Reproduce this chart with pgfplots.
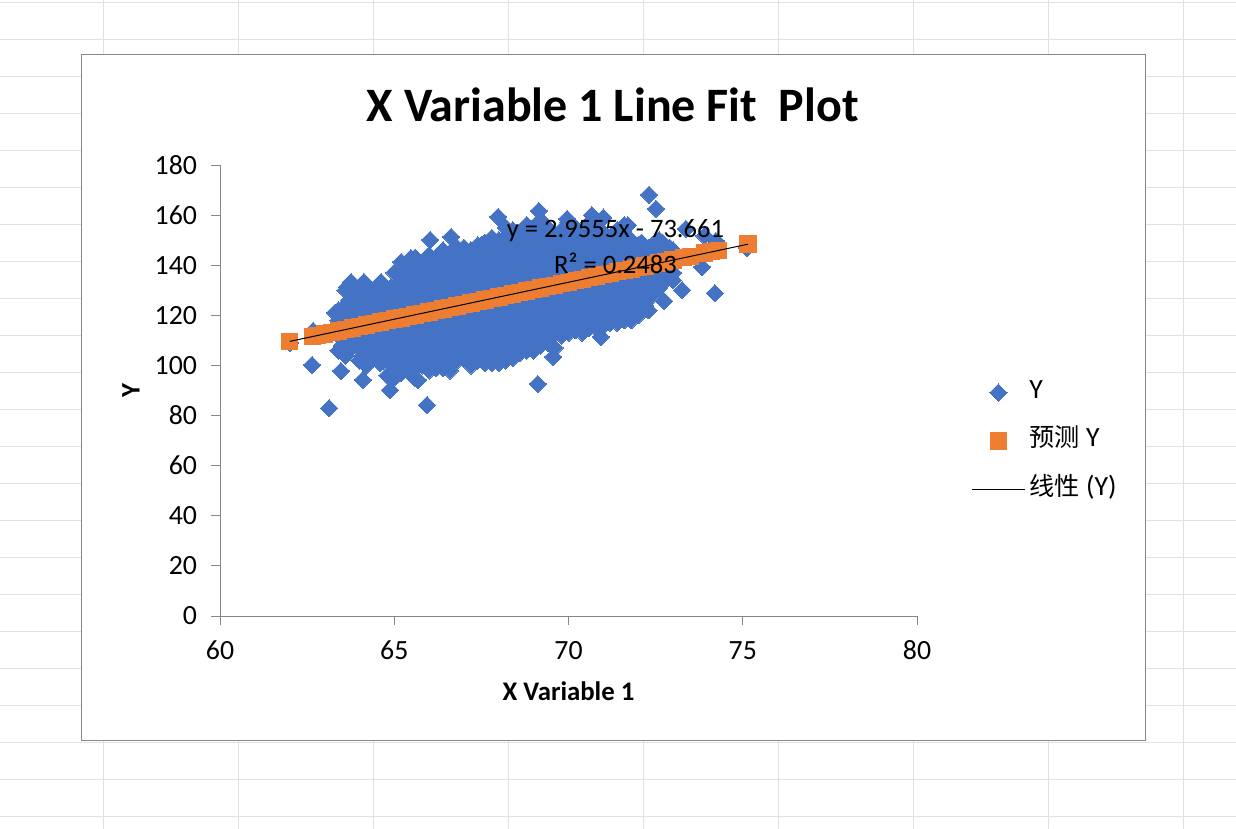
\documentclass[border=0pt]{standalone}
\usepackage{pgfplots}
\usepackage{pgfplotstable}
\pgfplotsset{compat=1.18}
\usepackage{fontspec}
\setmainfont{Carlito}[Numbers=Lining]
\newfontfamily\cjk{Noto Sans CJK SC}
\definecolor{blueY}{HTML}{4472C4}
\definecolor{orangeY}{HTML}{ED7D31}
\definecolor{axisgray}{HTML}{868686}
\definecolor{sheetgrid}{HTML}{E1E1E1}
\pgfplotsset{
  markleg/.style={legend image code/.code={\draw[mark repeat=2,mark phase=2,##1] plot coordinates {(0pt,0pt)(13.25pt,0pt)(26.5pt,0pt)};}},
  lineleg/.style={legend image code/.code={\draw[##1] (0pt,0pt) -- (26.5pt,0pt);}},
}

\pgfplotstableread[row sep=\\]{
x y\\
62.00 109\\ 62.64 100.2\\ 62.67 113.8\\ 63.13 83.0\\ 63.30 121\\ 63.47 97.8\\ 63.64 131.3\\ 63.76 133.3\\
64.10 94.2\\ 64.13 133.3\\ 64.62 133.3\\ 64.88 90.2\\ 65.02 95.4\\ 65.20 141.3\\ 65.48 142.9\\ 65.68 94.2\\ 65.94 84.2\\ 66.03 150.1\\
66.63 151.3\\ 67.80 150.9\\ 67.98 159.3\\ 69.12 92.6\\ 69.15 161.7\\ 69.56 103.4\\ 69.96 158.5\\ 70.67 160\\
70.93 111.4\\ 71.00 159\\ 71.70 156\\ 72.20 123.4\\ 72.30 122\\ 72.31 168.1\\ 72.51 162.5\\ 72.74 125.7\\
73.00 134\\ 73.26 130.1\\ 73.37 154.5\\ 73.83 139.3\\ 73.90 151.7\\ 74.20 128.9\\ 74.23 149.7\\ 75.12 146.9\\
63.4 106\\ 63.4 112\\ 63.4 118\\ 63.4 122\\
63.6 104\\ 63.6 110\\ 63.6 117\\ 63.6 124\\ 63.6 130\\
63.8 108\\ 63.8 114\\ 63.8 120\\ 63.8 127\\ 63.8 132\\
64.0 102\\ 64.0 108\\ 64.0 115\\ 64.0 122\\ 64.0 128\\
64.2 100\\ 64.2 106\\ 64.2 113\\ 64.2 119\\ 64.2 126\\ 64.2 132\\
64.4 103\\ 64.4 110\\ 64.4 116\\ 64.4 123\\ 64.4 130\\
64.6 101\\ 64.6 107\\ 64.6 114\\ 64.6 120\\ 64.6 127\\ 64.6 132\\
64.8 96\\ 64.8 103\\ 64.8 110\\ 64.8 116\\ 64.8 123\\ 64.8 130\\
65.0 100\\ 65.0 106\\ 65.0 113\\ 65.0 119\\ 65.0 125\\ 65.0 131\\ 65.0 137\\
65.2 97\\ 65.2 104\\ 65.2 110\\ 65.2 117\\ 65.2 123\\ 65.2 130\\ 65.2 136\\
65.4 98\\ 65.4 101\\ 65.4 108\\ 65.4 114\\ 65.4 121\\ 65.4 127\\ 65.4 134\\ 65.4 140\\
65.6 95\\ 65.6 104\\ 65.6 111\\ 65.6 118\\ 65.6 124\\ 65.6 131\\ 65.6 137\\ 65.6 143\\
65.8 100\\ 65.8 107\\ 65.8 114\\ 65.8 120\\ 65.8 127\\ 65.8 134\\ 65.8 140\\
66.0 98\\ 66.0 104\\ 66.0 111\\ 66.0 118\\ 66.0 124\\ 66.0 131\\ 66.0 137\\ 66.0 144\\
66.2 99\\ 66.2 106\\ 66.2 113\\ 66.2 120\\ 66.2 127\\ 66.2 134\\ 66.2 140\\ 66.2 143\\
66.4 99\\ 66.4 103\\ 66.4 110\\ 66.4 117\\ 66.4 123\\ 66.4 130\\ 66.4 137\\ 66.4 146\\
66.6 98\\ 66.6 106\\ 66.6 113\\ 66.6 120\\ 66.6 126\\ 66.6 133\\ 66.6 140\\ 66.6 145\\
66.8 102\\ 66.8 109\\ 66.8 116\\ 66.8 122\\ 66.8 129\\ 66.8 136\\ 66.8 142\\ 66.8 147\\
67.0 103\\ 67.0 106\\ 67.0 113\\ 67.0 119\\ 67.0 126\\ 67.0 133\\ 67.0 140\\ 67.0 147\\
67.2 100\\ 67.2 108\\ 67.2 115\\ 67.2 122\\ 67.2 129\\ 67.2 136\\ 67.2 142\\ 67.2 146\\
67.4 102\\ 67.4 105\\ 67.4 112\\ 67.4 119\\ 67.4 126\\ 67.4 132\\ 67.4 139\\ 67.4 148\\
67.6 101\\ 67.6 108\\ 67.6 115\\ 67.6 122\\ 67.6 129\\ 67.6 136\\ 67.6 143\\ 67.6 149\\
67.8 101\\ 67.8 111\\ 67.8 118\\ 67.8 125\\ 67.8 132\\ 67.8 139\\ 67.8 147\\
68.0 101\\ 68.0 107\\ 68.0 114\\ 68.0 121\\ 68.0 128\\ 68.0 135\\ 68.0 142\\ 68.0 150\\
68.2 102\\ 68.2 110\\ 68.2 117\\ 68.2 124\\ 68.2 131\\ 68.2 138\\ 68.2 146\\ 68.2 155\\
68.4 103\\ 68.4 108\\ 68.4 115\\ 68.4 122\\ 68.4 129\\ 68.4 136\\ 68.4 143\\ 68.4 149\\ 68.4 154\\
68.6 105\\ 68.6 112\\ 68.6 119\\ 68.6 126\\ 68.6 133\\ 68.6 140\\ 68.6 147\\ 68.6 152\\
68.8 106\\ 68.8 110\\ 68.8 117\\ 68.8 124\\ 68.8 131\\ 68.8 138\\ 68.8 145\\ 68.8 151\\ 68.8 156\\
69.0 106\\ 69.0 113\\ 69.0 120\\ 69.0 127\\ 69.0 134\\ 69.0 141\\ 69.0 148\\ 69.0 154\\
69.2 108\\ 69.2 114\\ 69.2 121\\ 69.2 128\\ 69.2 135\\ 69.2 142\\ 69.2 149\\ 69.2 158\\
69.4 109\\ 69.4 117\\ 69.4 124\\ 69.4 131\\ 69.4 138\\ 69.4 145\\ 69.4 151\\ 69.4 155\\
69.6 107\\ 69.6 113\\ 69.6 120\\ 69.6 127\\ 69.6 134\\ 69.6 141\\ 69.6 148\\ 69.6 152\\
69.8 112\\ 69.8 118\\ 69.8 125\\ 69.8 132\\ 69.8 139\\ 69.8 146\\ 69.8 154\\
70.0 113\\ 70.0 120\\ 70.0 127\\ 70.0 134\\ 70.0 141\\ 70.0 148\\ 70.0 152\\ 70.0 157\\
70.2 114\\ 70.2 118\\ 70.2 125\\ 70.2 132\\ 70.2 139\\ 70.2 146\\ 70.2 155\\
70.4 113\\ 70.4 120\\ 70.4 127\\ 70.4 134\\ 70.4 141\\ 70.4 148\\ 70.4 153\\
70.6 115\\ 70.6 122\\ 70.6 129\\ 70.6 136\\ 70.6 143\\ 70.6 150\\ 70.6 157\\
70.8 115\\ 70.8 120\\ 70.8 127\\ 70.8 134\\ 70.8 141\\ 70.8 148\\ 70.8 155\\
71.0 116\\ 71.0 122\\ 71.0 129\\ 71.0 136\\ 71.0 143\\ 71.0 149\\ 71.0 153\\
71.2 117\\ 71.2 124\\ 71.2 131\\ 71.2 138\\ 71.2 145\\ 71.2 151\\
71.4 117\\ 71.4 122\\ 71.4 129\\ 71.4 136\\ 71.4 143\\ 71.4 149\\ 71.4 154\\
71.6 118\\ 71.6 125\\ 71.6 132\\ 71.6 139\\ 71.6 146\\ 71.6 156\\
71.8 118\\ 71.8 122\\ 71.8 129\\ 71.8 136\\ 71.8 143\\ 71.8 150\\
72.0 120\\ 72.0 126\\ 72.0 133\\ 72.0 140\\ 72.0 148\\
72.2 124\\ 72.2 130\\ 72.2 137\\ 72.2 143\\ 72.2 147\\
72.4 128\\ 72.4 134\\ 72.4 141\\ 72.4 148\\
72.6 131\\ 72.6 137\\ 72.6 144\\ 72.6 150\\
72.8 134\\ 72.8 140\\ 72.8 147\\
73.0 137\\ 73.0 142\\ 73.0 146\\
63.5 108\\ 63.5 113\\ 63.5 118\\
63.7 106\\ 63.7 111\\ 63.7 116\\ 63.7 121\\ 63.7 126\\
63.9 108\\ 63.9 113\\ 63.9 118\\ 63.9 123\\ 63.9 128\\
64.1 104\\ 64.1 109\\ 64.1 114\\ 64.1 119\\ 64.1 124\\ 64.1 129\\
64.3 106\\ 64.3 111\\ 64.3 116\\ 64.3 121\\ 64.3 126\\ 64.3 130\\
64.5 104\\ 64.5 109\\ 64.5 114\\ 64.5 119\\ 64.5 124\\ 64.5 129\\
64.7 102\\ 64.7 107\\ 64.7 112\\ 64.7 117\\ 64.7 122\\ 64.7 127\\
64.9 101\\ 64.9 106\\ 64.9 111\\ 64.9 116\\ 64.9 121\\ 64.9 126\\ 64.9 131\\
65.1 102\\ 65.1 107\\ 65.1 112\\ 65.1 117\\ 65.1 122\\ 65.1 127\\ 65.1 132\\
65.3 100\\ 65.3 105\\ 65.3 110\\ 65.3 115\\ 65.3 120\\ 65.3 125\\ 65.3 130\\ 65.3 135\\
65.5 102\\ 65.5 107\\ 65.5 112\\ 65.5 117\\ 65.5 122\\ 65.5 127\\ 65.5 132\\ 65.5 137\\
65.7 100\\ 65.7 105\\ 65.7 110\\ 65.7 115\\ 65.7 120\\ 65.7 125\\ 65.7 130\\ 65.7 135\\ 65.7 140\\
65.9 102\\ 65.9 107\\ 65.9 112\\ 65.9 117\\ 65.9 122\\ 65.9 127\\ 65.9 132\\ 65.9 137\\
66.1 101\\ 66.1 106\\ 66.1 111\\ 66.1 116\\ 66.1 121\\ 66.1 126\\ 66.1 131\\ 66.1 136\\ 66.1 141\\
66.3 103\\ 66.3 108\\ 66.3 113\\ 66.3 118\\ 66.3 123\\ 66.3 128\\ 66.3 133\\ 66.3 138\\ 66.3 143\\
66.5 101\\ 66.5 106\\ 66.5 111\\ 66.5 116\\ 66.5 121\\ 66.5 126\\ 66.5 131\\ 66.5 136\\ 66.5 141\\
66.7 103\\ 66.7 108\\ 66.7 113\\ 66.7 118\\ 66.7 123\\ 66.7 128\\ 66.7 133\\ 66.7 138\\ 66.7 143\\
66.9 105\\ 66.9 110\\ 66.9 115\\ 66.9 120\\ 66.9 125\\ 66.9 130\\ 66.9 135\\ 66.9 140\\ 66.9 145\\
67.1 103\\ 67.1 108\\ 67.1 113\\ 67.1 118\\ 67.1 123\\ 67.1 128\\ 67.1 133\\ 67.1 138\\ 67.1 143\\
67.3 105\\ 67.3 110\\ 67.3 115\\ 67.3 120\\ 67.3 125\\ 67.3 130\\ 67.3 135\\ 67.3 140\\ 67.3 145\\
67.5 103\\ 67.5 108\\ 67.5 113\\ 67.5 118\\ 67.5 123\\ 67.5 128\\ 67.5 133\\ 67.5 138\\ 67.5 143\\ 67.5 148\\
67.7 105\\ 67.7 110\\ 67.7 115\\ 67.7 120\\ 67.7 125\\ 67.7 130\\ 67.7 135\\ 67.7 140\\ 67.7 145\\
67.9 103\\ 67.9 108\\ 67.9 113\\ 67.9 118\\ 67.9 123\\ 67.9 128\\ 67.9 133\\ 67.9 138\\ 67.9 143\\ 67.9 148\\
68.1 105\\ 68.1 110\\ 68.1 115\\ 68.1 120\\ 68.1 125\\ 68.1 130\\ 68.1 135\\ 68.1 140\\ 68.1 145\\ 68.1 150\\
68.3 105\\ 68.3 110\\ 68.3 115\\ 68.3 120\\ 68.3 125\\ 68.3 130\\ 68.3 135\\ 68.3 140\\ 68.3 145\\ 68.3 150\\
68.5 107\\ 68.5 112\\ 68.5 117\\ 68.5 122\\ 68.5 127\\ 68.5 132\\ 68.5 137\\ 68.5 142\\ 68.5 147\\ 68.5 152\\
68.7 109\\ 68.7 114\\ 68.7 119\\ 68.7 124\\ 68.7 129\\ 68.7 134\\ 68.7 139\\ 68.7 144\\ 68.7 149\\
68.9 109\\ 68.9 114\\ 68.9 119\\ 68.9 124\\ 68.9 129\\ 68.9 134\\ 68.9 139\\ 68.9 144\\ 68.9 149\\ 68.9 153\\
69.1 110\\ 69.1 115\\ 69.1 120\\ 69.1 125\\ 69.1 130\\ 69.1 135\\ 69.1 140\\ 69.1 145\\ 69.1 150\\ 69.1 154\\
69.3 112\\ 69.3 117\\ 69.3 122\\ 69.3 127\\ 69.3 132\\ 69.3 137\\ 69.3 142\\ 69.3 147\\ 69.3 152\\
69.5 112\\ 69.5 117\\ 69.5 122\\ 69.5 127\\ 69.5 132\\ 69.5 137\\ 69.5 142\\ 69.5 147\\ 69.5 152\\
69.7 114\\ 69.7 119\\ 69.7 124\\ 69.7 129\\ 69.7 134\\ 69.7 139\\ 69.7 144\\ 69.7 149\\
69.9 116\\ 69.9 121\\ 69.9 126\\ 69.9 131\\ 69.9 136\\ 69.9 141\\ 69.9 146\\ 69.9 151\\
70.1 116\\ 70.1 121\\ 70.1 126\\ 70.1 131\\ 70.1 136\\ 70.1 141\\ 70.1 146\\ 70.1 151\\
70.3 117\\ 70.3 122\\ 70.3 127\\ 70.3 132\\ 70.3 137\\ 70.3 142\\ 70.3 147\\ 70.3 152\\
70.5 118\\ 70.5 123\\ 70.5 128\\ 70.5 133\\ 70.5 138\\ 70.5 143\\ 70.5 148\\ 70.5 153\\
70.7 118\\ 70.7 123\\ 70.7 128\\ 70.7 133\\ 70.7 138\\ 70.7 143\\ 70.7 148\\ 70.7 153\\
70.9 119\\ 70.9 124\\ 70.9 129\\ 70.9 134\\ 70.9 139\\ 70.9 144\\ 70.9 149\\ 70.9 153\\
71.1 120\\ 71.1 125\\ 71.1 130\\ 71.1 135\\ 71.1 140\\ 71.1 145\\ 71.1 150\\
71.3 120\\ 71.3 125\\ 71.3 130\\ 71.3 135\\ 71.3 140\\ 71.3 145\\ 71.3 150\\
71.5 121\\ 71.5 126\\ 71.5 131\\ 71.5 136\\ 71.5 141\\ 71.5 146\\ 71.5 151\\
71.7 121\\ 71.7 126\\ 71.7 131\\ 71.7 136\\ 71.7 141\\ 71.7 146\\ 71.7 150\\
71.9 123\\ 71.9 128\\ 71.9 133\\ 71.9 138\\ 71.9 143\\ 71.9 148\\
72.1 125\\ 72.1 130\\ 72.1 135\\ 72.1 140\\ 72.1 145\\ 72.1 149\\
72.3 128\\ 72.3 133\\ 72.3 138\\ 72.3 143\\ 72.3 147\\
72.5 132\\ 72.5 137\\ 72.5 142\\ 72.5 147\\
72.7 135\\ 72.7 140\\ 72.7 145\\ 72.7 149\\
72.9 138\\ 72.9 143\\ 72.9 147\\
}\tableY

\pgfplotstableread{
x y
62.00 109.6
62.65 111.5
62.80 112.0
63.00 112.5
63.20 113.1
63.40 113.7
63.60 114.3
63.80 114.9
64.00 115.5
64.20 116.1
64.40 116.7
64.60 117.3
64.80 117.9
65.00 118.5
65.20 119.0
65.40 119.6
65.60 120.2
65.80 120.8
66.00 121.4
66.20 122.0
66.40 122.6
66.60 123.2
66.80 123.8
67.00 124.4
67.20 125.0
67.40 125.5
67.60 126.1
67.80 126.7
68.00 127.3
68.20 127.9
68.40 128.5
68.60 129.1
68.80 129.7
69.00 130.3
69.20 130.9
69.40 131.4
69.60 132.0
69.80 132.6
70.00 133.2
70.20 133.8
70.40 134.4
70.60 135.0
70.80 135.6
71.00 136.2
71.20 136.8
71.40 137.4
71.60 137.9
71.80 138.5
72.00 139.1
72.20 139.7
72.40 140.3
72.60 140.9
72.80 141.5
73.00 142.1
73.30 143.0
73.50 143.6
73.90 144.8
74.10 145.4
74.30 145.9
75.15 148.4
}\tablePred

\begin{document}
\begin{tikzpicture}
\begin{scope}[x=0.5pt,y=-0.5pt]
\useasboundingbox (0,0) rectangle (1236,829);
\fill[white] (0,0) rectangle (1236,829);
% worksheet cells behind the chart
\foreach \gx in {103.5,238.5,373.5,508.5,643.5,778.5,913.5,1048.5,1183.5}
  \draw[sheetgrid,line width=0.7pt] (\gx,0) -- (\gx,829);
\foreach \gy in {2.3,39.3,76.3,113.3,150.3,187.3,224.3,261.3,298.3,335.3,372.3,409.3,446.3,483.3,520.3,557.3,594.3,631.3,668.3,705.3,742.3,779.3,816.3}
  \draw[sheetgrid,line width=0.7pt] (0,\gy) -- (1236,\gy);
\draw[axisgray,fill=white,line width=0.65pt] (81.5,54.3) rectangle (1145.5,740.5);
\end{scope}

\begin{axis}[
    at={(110pt,-308pt)},
    anchor=south west,
    scale only axis,
    width=348.5pt,height=225.5pt,
    xmin=60,xmax=80,ymin=0,ymax=180,
    xtick={60,65,70,75,80},
    ytick={0,20,40,60,80,100,120,140,160,180},
    axis lines=left,
    axis line style={axisgray,line width=0.5pt,-},
    tick style={axisgray,line width=0.5pt},
    tick align=outside,
    major tick length=4.5pt,
    clip marker paths=true,
    /pgf/number format/assume math mode=true,
    tick label style={font=\fontsize{13.9}{16}\selectfont},
    xticklabel style={yshift=-4.5pt,text height=9pt,text depth=0pt},
    yticklabel style={xshift=-3.5pt},
    every axis title shift=0pt,
    title={X Variable 1 Line Fit\ \ Plot},
    title style={font=\fontsize{24}{28}\selectfont\bfseries,at={(axis description cs:0.5635,1.133)},anchor=center},
    xlabel={X Variable 1},
    xlabel style={font=\fontsize{13.4}{16}\selectfont\bfseries,at={(axis description cs:0.5,-0.166)},anchor=center},
    ylabel={Y},
    ylabel style={font=\fontsize{13.4}{16}\selectfont\bfseries,at={(axis description cs:-0.1277,0.501)},anchor=center},
    legend style={at={(axis description cs:1.0775,0.388)},anchor=west,draw=none,fill=none,
      font=\fontsize{13.9}{16}\selectfont,row sep=12pt,column sep=2pt,inner sep=0pt,
      nodes={inner sep=0pt,text height=9pt,text depth=3.2pt}},
    legend cell align=left,
]
\addplot[only marks,mark=square*,mark size=3.05pt,
    mark options={rotate=45,fill=blueY,draw=blueY,line width=0pt},
    markleg]
    table[x=x,y=y] {\tableY};
\addlegendentry{Y}
\addplot[only marks,mark=square*,mark size=4.1pt,
    mark options={fill=orangeY,draw=orangeY,line width=0pt},
    markleg]
    table[x=x,y=y] {\tablePred};
\addlegendentry{{\cjk\fontsize{12.6}{15}\selectfont 预测} Y}
\addplot[black,line width=0.5pt,no marks,lineleg]
    coordinates {(62.0,109.6) (75.15,148.4)};
\addlegendentry{{\cjk\fontsize{12.6}{15}\selectfont 线性} (Y)}
\end{axis}

\begin{scope}[x=0.5pt,y=-0.5pt]
\node[font=\fontsize{13.3}{16}\selectfont,inner sep=0pt] at (615.5,231) {y = 2.9555x - 73.661};
\node[font=\fontsize{13.3}{16}\selectfont,inner sep=0pt] at (615.5,263) {R² = 0.2483};
\end{scope}
\end{tikzpicture}
\end{document}
